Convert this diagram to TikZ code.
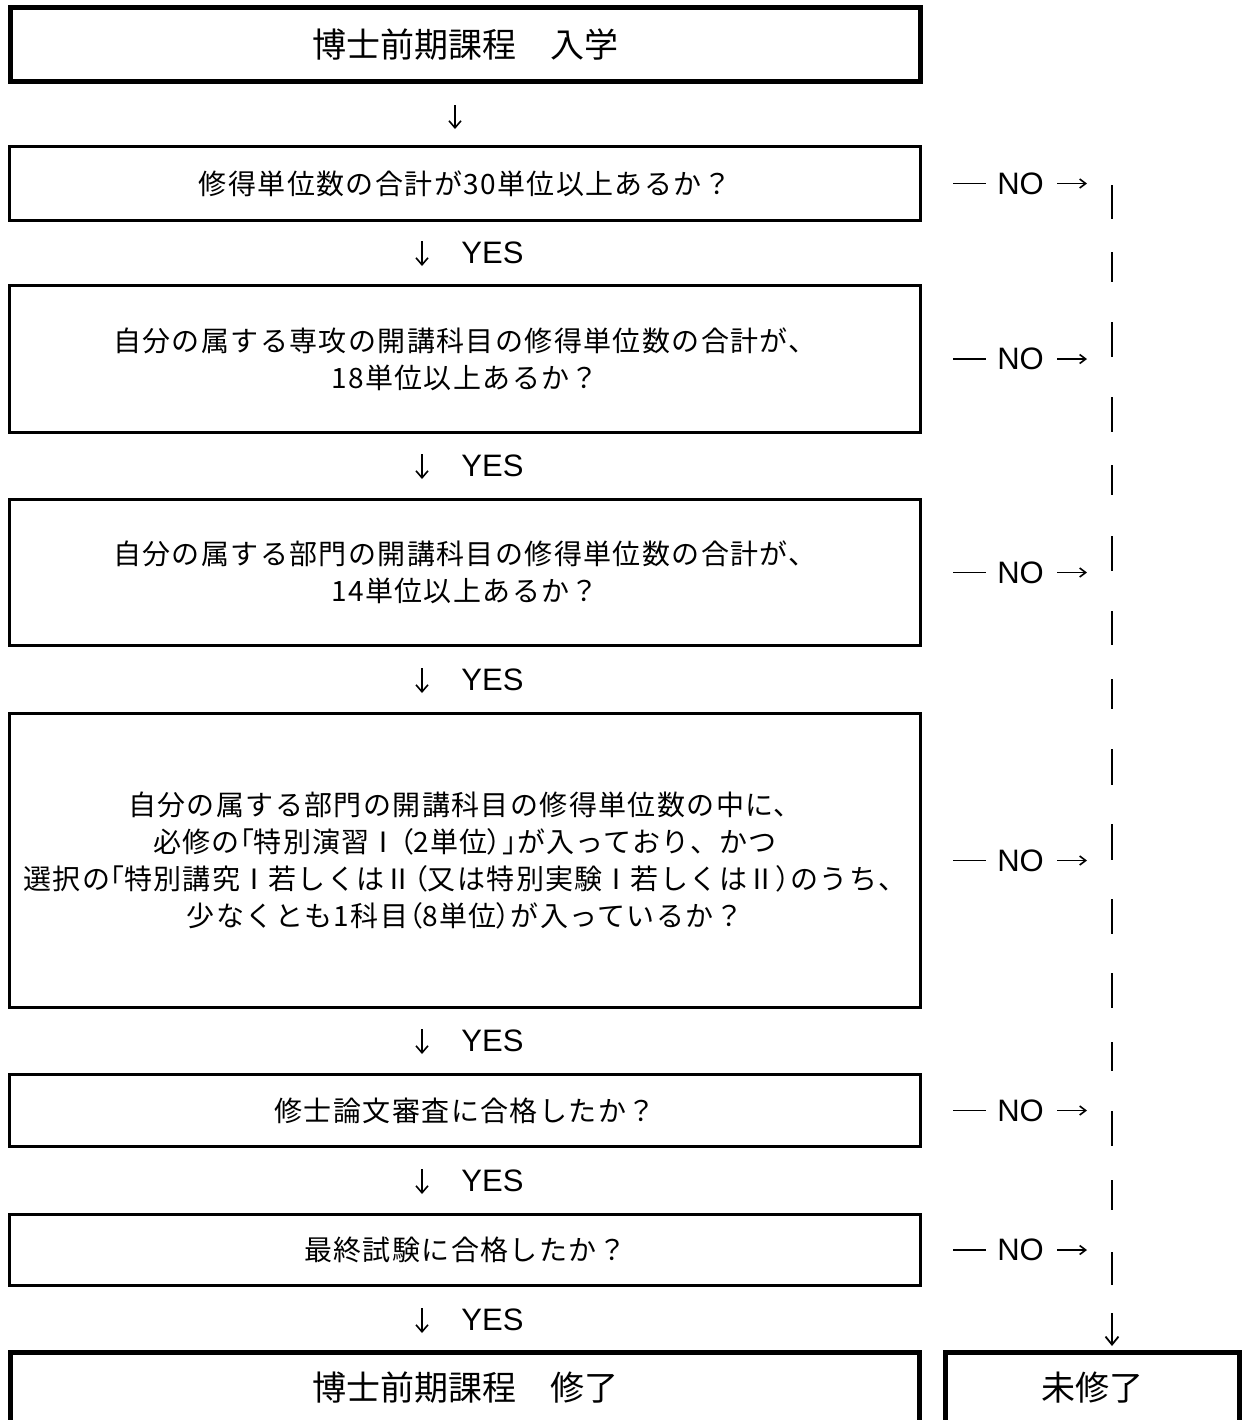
\documentclass[tikz,border=0pt]{standalone}
\usepackage{fontspec}
\setmainfont{Liberation Sans}
\newfontfamily\jpt{Noto Sans CJK JP}
\newfontfamily\jpb[LetterSpace=5]{Noto Sans CJK JP}
\newfontfamily\jpq[LetterSpace=5,RawFeature=+palt]{Noto Sans CJK JP}
\newcommand\pbr[1]{{\jpq #1}}
\newcommand\bxfont{\jpb\fontsize{14pt}{18.5pt}\selectfont}
\newcommand\ttlfont{\jpt\fontsize{17pt}{20pt}\selectfont}
\usetikzlibrary{arrows.meta}
\tikzset{
  box/.style={draw, rectangle, line width=1.5pt, inner sep=0pt, align=center, font=\bxfont},
  thickbox/.style={box, line width=2.5pt, font=\ttlfont},
  lbl/.style={inner sep=0pt, font=\fontsize{15.5pt}{18pt}\selectfont},
  garrow/.style={line width=0.8pt, -{Straight Barb[length=3.5pt,width=6pt]}},
  harrow/.style={line width=0.8pt, -{Straight Barb[length=3pt,width=4.5pt]}},
  bigarrow/.style={line width=0.9pt, -{Straight Barb[length=4pt,width=6.5pt]}},
  dashseg/.style={line width=0.9pt},
  vseg/.style={line width=1pt}
}
\begin{document}
\begin{tikzpicture}[x=0.5pt,y=-0.5pt]
\useasboundingbox (0,0) rectangle (1242,1420);
\clip (0,0) rectangle (1242,1420);

% boxes
\node[thickbox, minimum width=455pt, minimum height=37pt] (b1) at (465.5,44.5) {博士前期課程　入学};
\node[box, minimum width=455.5pt, minimum height=37pt] (b2) at (465,183.5) {修得単位数の合計が30単位以上あるか？};
\node[box, minimum width=455.5pt, minimum height=73.5pt] (b3) at (465,359) {自分の属する専攻の開講科目の修得単位数の合計が、\\18単位以上あるか？};
\node[box, minimum width=455.5pt, minimum height=73pt] (b4) at (465,572.5) {自分の属する部門の開講科目の修得単位数の合計が、\\14単位以上あるか？};
\node[box, minimum width=455.5pt, minimum height=147pt] (b5) at (465,860.5) {自分の属する部門の開講科目の修得単位数の中に、\\必修の\pbr{「}特別演習\pbr{Ⅰ（}2単位\pbr{）」}が入っており、かつ\\選択の\pbr{「}特別講究\pbr{Ⅰ}若しくは\pbr{Ⅱ（}又は特別実験\pbr{Ⅰ}若しくは\pbr{Ⅱ）}のうち、\\少なくとも1科目\pbr{（}8単位\pbr{）}が入っているか？};
\node[box, minimum width=455.5pt, minimum height=36pt] (b6) at (465,1110.5) {修士論文審査に合格したか？};
\node[box, minimum width=455.5pt, minimum height=35.5pt] (b7) at (465,1250) {最終試験に合格したか？};
\node[thickbox, minimum width=454.5pt, minimum height=35.5pt] (b8) at (465,1388) {博士前期課程　修了};
\node[thickbox, minimum width=147pt, minimum height=35.5pt] (b9) at (1092.5,1388) {未修了};

% first down arrow
\coordinate (d0a) at (455,105);
\coordinate (d0b) at (455,129);
\draw[garrow] (d0a) -- (d0b);

% YES arrows
\foreach \r [count=\i] in {253,466,680,1041,1181,1320} {
  \coordinate (ya\i) at (422,\r-12);
  \coordinate (yb\i) at (422,\r+13);
  \draw[garrow] (ya\i) -- (yb\i);
  \node[lbl, anchor=west] (yes\i) at (461,\r) {YES};
}

% NO labels
\foreach \r [count=\i] in {183.5,359,572.5,860.5,1110.5,1250} {
  \node[lbl] (no\i) at (1020.5,\r) {NO};
  \coordinate (nd\i) at (953,\r);
  \coordinate (ne\i) at (986,\r);
  \draw[dashseg] (nd\i) -- (ne\i);
  \coordinate (na\i) at (1057,\r);
  \coordinate (nb\i) at (1087,\r);
  \draw[harrow] (na\i) -- (nb\i);
}

% broken vertical line on the right
\foreach \a/\b in {185/219,252/282,322/357,397/432,465/495,536/571,611/645,679/709,749/785,824/860,899/934,973/1008,1042/1071,1111/1146,1180/1210,1252/1285} {
  \draw[vseg] (1112,\a) -- (1112,\b);
}
\coordinate (fa) at (1112,1313);
\coordinate (fb) at (1112,1346);
\draw[bigarrow] (fa) -- (fb);
\end{tikzpicture}
\end{document}
